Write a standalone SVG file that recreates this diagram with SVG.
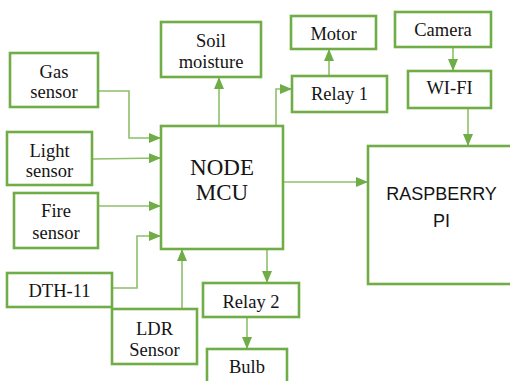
<svg xmlns="http://www.w3.org/2000/svg" width="510" height="381" viewBox="0 0 510 381">
<defs>
<marker id="ah" viewBox="0 0 12 10" refX="12" refY="5" markerWidth="12" markerHeight="10" markerUnits="userSpaceOnUse" orient="auto">
<path d="M0,0 L12,5 L0,10 Z" fill="#70AD47"/>
</marker>
<style>
.box{fill:#fff;stroke:#70AD47;stroke-width:2.6}
.t{font-family:'Liberation Serif',serif;font-size:18.5px;fill:#141414;text-anchor:middle}
.big{font-size:23px}
.sans{font-family:'Liberation Sans',sans-serif;font-size:18px;fill:#141414;text-anchor:middle}
.c{fill:none;stroke:#8CC06A;stroke-width:1.6;marker-end:url(#ah)}
</style>
</defs>
<rect width="510" height="381" fill="#fff"/>
<g id="connectors">
<path class="c" d="M98,91 H129 V138 H161"/>
<path class="c" d="M92,159 L161,158"/>
<path class="c" d="M98,206 H161"/>
<path class="c" d="M112,288 H137 V236 H161"/>
<path class="c" d="M182,309 V249"/>
<path class="c" d="M219,126 V77"/>
<path class="c" d="M276,126 V89 H292"/>
<path class="c" d="M329,76 V49"/>
<path class="c" d="M453,47 V71"/>
<path class="c" d="M468,108 V146"/>
<path class="c" d="M283,182 H368"/>
<path class="c" d="M267,249 V283"/>
<path class="c" d="M247,317 V349"/>
</g>
<g id="gas"><rect class="box" x="10" y="53" width="88" height="54"/><text class="t" x="54" y="78">Gas</text><text class="t" x="54" y="98">sensor</text></g>
<g id="soil"><rect class="box" x="161" y="22" width="100" height="55"/><text class="t" x="211" y="47">Soil</text><text class="t" x="211" y="68">moisture</text></g>
<g id="light"><rect class="box" x="7" y="132" width="85" height="53"/><text class="t" x="49.5" y="157">Light</text><text class="t" x="49.5" y="177">sensor</text></g>
<g id="fire"><rect class="box" x="14" y="193" width="84" height="55"/><text class="t" x="56" y="217">Fire</text><text class="t" x="56" y="239">sensor</text></g>
<g id="dth"><rect class="box" x="7" y="273" width="105" height="34"/><text class="t" x="59.5" y="297">DTH-11</text></g>
<g id="ldr"><rect class="box" x="112" y="309" width="85" height="55"/><text class="t" x="154.5" y="335">LDR</text><text class="t" x="154.5" y="356">Sensor</text></g>
<g id="nodemcu"><rect class="box" x="161" y="126" width="122" height="123"/><text class="t big" x="222" y="175">NODE</text><text class="t big" x="222" y="200">MCU</text></g>
<g id="motor"><rect class="box" x="291" y="16" width="85" height="33"/><text class="t" x="333.5" y="40">Motor</text></g>
<g id="relay1"><rect class="box" x="292" y="76" width="95" height="36"/><text class="t" x="339.5" y="100">Relay 1</text></g>
<g id="camera"><rect class="box" x="395" y="12" width="96" height="35"/><text class="t" x="443" y="36">Camera</text></g>
<g id="wifi"><rect class="box" x="408" y="71" width="83" height="37"/><text class="t" x="449.5" y="94">WI-FI</text></g>
<g id="rpi"><rect class="box" x="368" y="146" width="146" height="138"/><text class="sans" x="441.5" y="200">RASPBERRY</text><text class="sans" x="441.5" y="227">PI</text></g>
<g id="relay2"><rect class="box" x="203" y="283" width="96" height="34"/><text class="t" x="251" y="308">Relay 2</text></g>
<g id="bulb"><rect class="box" x="207" y="349" width="80" height="40"/><text class="t" x="247" y="373">Bulb</text></g>
</svg>
